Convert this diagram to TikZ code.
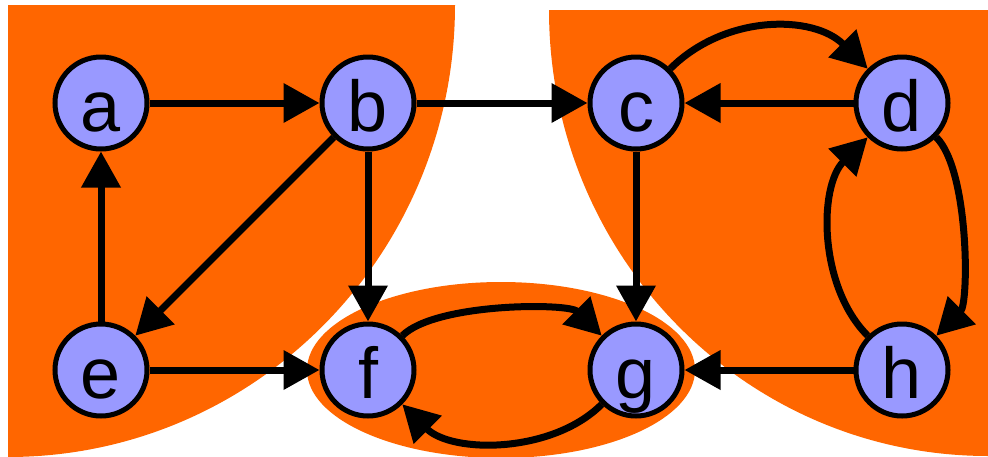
\documentclass[tikz,border=0pt]{standalone}
\usepackage{fontspec}
\setmainfont{Liberation Sans}
\usetikzlibrary{arrows.meta}
\definecolor{regionorange}{RGB}{255,102,0}
\definecolor{vertexblue}{RGB}{153,153,255}

\begin{document}
\begin{tikzpicture}[x=1pt, y=-1pt,
    vertex/.style={circle, draw=black, line width=5pt, fill=vertexblue, minimum size=92pt, inner sep=0pt,
      text height=56pt, text depth=0pt, font=\fontsize{72}{72}\selectfont},
    edge/.style={line width=7pt, -{Triangle[length=36pt, width=38pt]}}]
    \useasboundingbox (0,0) rectangle (988,456);

    % the three regions
    \fill[regionorange] (8,5) -- (455,5) arc[start angle=0, end angle=90, x radius=447, y radius=452] -- cycle;
    \fill[regionorange] (988,10) -- (549,10) arc[start angle=180, end angle=90, x radius=439, y radius=446] -- cycle;
    \fill[regionorange] (501,370) ellipse[x radius=194, y radius=88];

    % vertices
    \node[vertex] (a) at (101,103) {a};
    \node[vertex] (b) at (368,103) {b};
    \node[vertex] (c) at (636,103) {c};
    \node[vertex] (d) at (902,103) {d};
    \node[vertex] (e) at (101,370) {e};
    \node[vertex] (f) at (368,370) {f};
    \node[vertex] (g) at (636,370) {g};
    \node[vertex] (h) at (902,370) {h};

    % edges
    \draw[edge] (a) -- (b);
    \draw[edge] (b) -- (c);
    \draw[edge] (d) -- (c);
    \draw[edge] (b) -- (e);
    \draw[edge] (b) -- (f);
    \draw[edge] (e) -- (a);
    \draw[edge] (e) -- (f);
    \draw[edge] (c) -- (g);
    \draw[edge] (h) -- (g);
    \draw[edge] (c) to[bend left=45] (d);
    \draw[edge] (d) to[bend left=45, looseness=0.6] (h);
    \draw[edge] (h) to[bend left=45, looseness=0.9] (d);
    \draw[edge] (f) to[bend left=45, looseness=0.6] (g);
    \draw[edge] (g) to[bend left=45, looseness=0.9] (f);
\end{tikzpicture}
\end{document}
